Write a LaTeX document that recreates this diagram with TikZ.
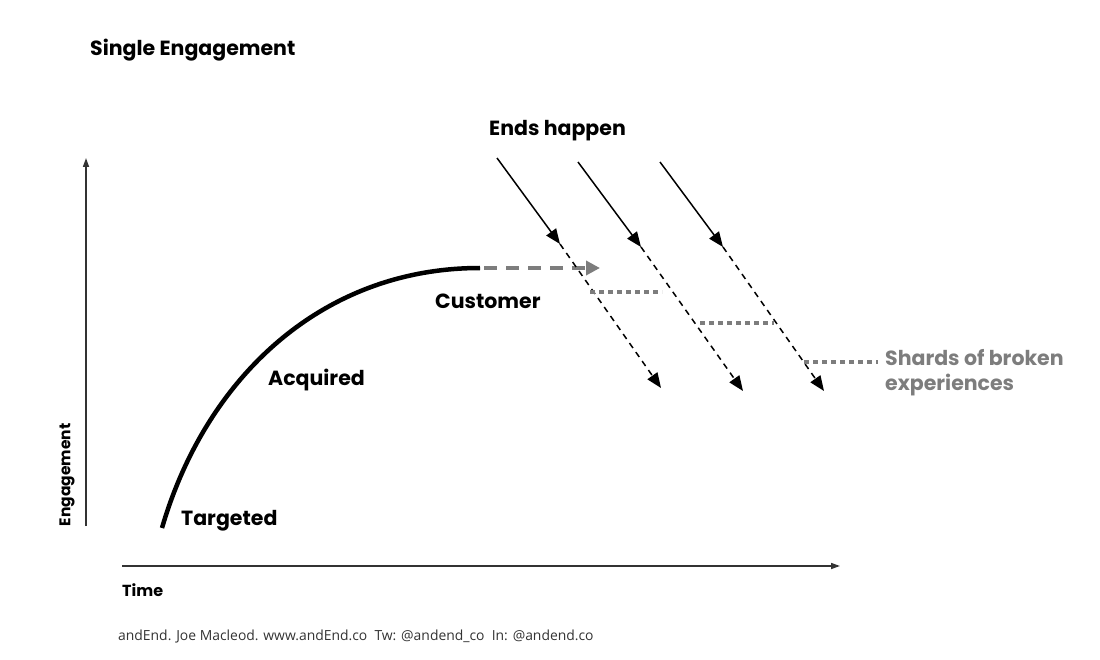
\documentclass[tikz,border=0pt]{standalone}
\usepackage{fontspec}
\setmainfont{Poppins}
\newfontfamily\footfont{Open Sans}
\usetikzlibrary{arrows.meta}
\definecolor{shard}{HTML}{7D7D7D}
\definecolor{axisc}{HTML}{333333}
\tikzset{
  lbl/.style={font=\bfseries\fontsize{20.5}{22}\selectfont, inner sep=0pt},
  axisline/.style={draw=axisc, line width=1.6pt, -{Triangle[length=9pt,width=6pt]}},
  endarrow/.style={draw=black, line width=1.5pt, -{Triangle[length=15pt,width=12pt]}},
  endcont/.style={draw=black, line width=1.5pt, dash pattern=on 6pt off 5pt, -{Triangle[length=15pt,width=12pt]}},
  shardline/.style={draw=shard, line width=4.5pt, dash pattern=on 5pt off 4pt},
}
\begin{document}
\begin{tikzpicture}[x=1pt,y=-1pt]
\useasboundingbox (0,0) rectangle (1100,660);
\node[lbl, anchor=west] (title) at (90,50) {Single Engagement};
% axes
\coordinate (yo) at (86,526);
\coordinate (yt) at (86,158);
\coordinate (xo) at (122,566);
\coordinate (xt) at (840,566);
\draw[axisline] (yo) -- (yt);
\draw[axisline] (xo) -- (xt);
\node[lbl, font=\bfseries\fontsize{15.5}{18}\selectfont, rotate=90] (eng) at (67,475) {Engagement};
\node[lbl, font=\bfseries\fontsize{16}{18}\selectfont, anchor=west] (time) at (122,590) {Time};
% curve
\coordinate (c0) at (162,528);
\coordinate (c1) at (480,268);
\draw[line width=4.5pt] (c0) .. controls (205,380) and (320,268) .. (c1);
\coordinate (g1) at (600,268);
\draw[draw=shard, line width=4pt, dash pattern=on 13pt off 9pt, -{Triangle[length=14pt,width=14pt]}] (484,268) -- (g1);
\node[lbl, anchor=west] (cust) at (435,301) {Customer};
\node[lbl, anchor=west] (acq) at (268,380) {Acquired};
\node[lbl, anchor=west] (targ) at (181,521) {Targeted};
\node[lbl, anchor=west] (ends) at (489,131) {Ends happen};
% end arrows
\coordinate (a1s) at (497,158); \coordinate (a1t) at (560,244);
\coordinate (a2s) at (578,162); \coordinate (a2t) at (641,247);
\coordinate (a3s) at (660,162); \coordinate (a3t) at (723,247);
\coordinate (b1t) at (661,388);
\coordinate (b2t) at (743,391);
\coordinate (b3t) at (824,391);
\draw[endarrow] (a1s) -- (a1t);
\draw[endarrow] (a2s) -- (a2t);
\draw[endarrow] (a3s) -- (a3t);
\draw[endcont] (a1t) -- (b1t);
\draw[endcont] (a2t) -- (b2t);
\draw[endcont] (a3t) -- (b3t);
% shards
\draw[shardline] (590,292) -- (662,292);
\draw[shardline] (700,323) -- (774,323);
\draw[shardline] (804,362) -- (878,362);
\node[lbl, text=shard, anchor=base west, align=left, font=\bfseries\fontsize{20.5}{25}\selectfont] (shards) at (885,390) {Shards of broken\\experiences};
\node[anchor=west, inner sep=0pt, font=\footfont\fontsize{13.9}{16}\selectfont, text=axisc] (foot) at (118,637) {andEnd. Joe Macleod. www.andEnd.co\ \ Tw: @andend\_co\ \ In: @andend.co};
\end{tikzpicture}
\end{document}
